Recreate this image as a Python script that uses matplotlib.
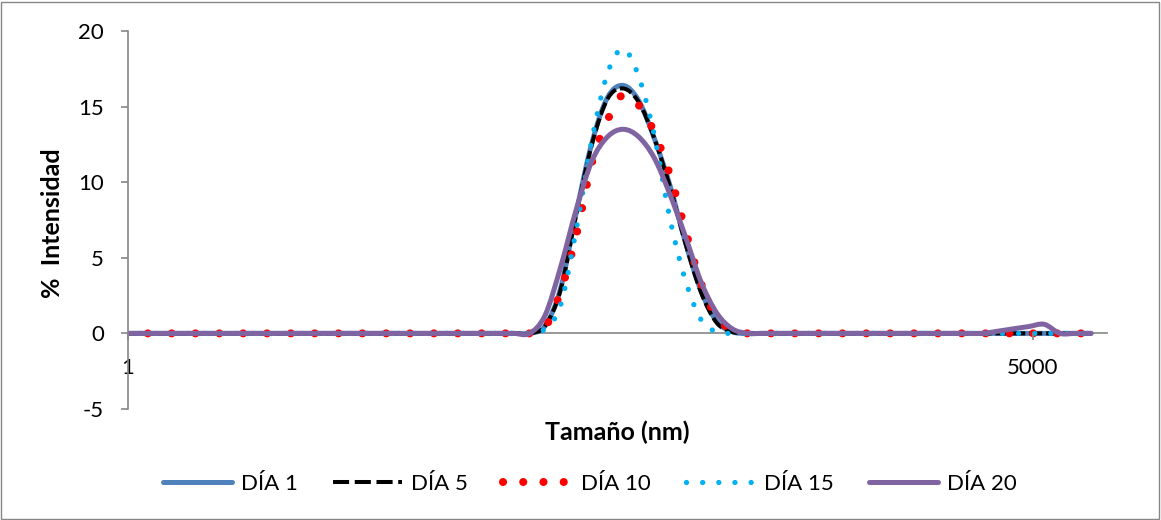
import matplotlib
matplotlib.use("Agg")
import numpy as np
import matplotlib.pyplot as plt
from matplotlib.ticker import NullLocator
from matplotlib.patches import Rectangle, PathPatch
from matplotlib.path import Path
from matplotlib.lines import Line2D

plt.rcParams['font.family'] = ['Lato', 'DejaVu Sans']
plt.rcParams['axes.unicode_minus'] = False

# tamaños de las clases (nm)
tamano = [0.9649, 1.117, 1.294, 1.499, 1.736, 2.01, 2.328, 2.696, 3.122, 3.615,
          4.187, 4.849, 5.615, 6.503, 7.531, 8.721, 10.1, 11.7, 13.54, 15.69,
          18.17, 21.04, 24.36, 28.21, 32.67, 37.84, 43.82, 50.75, 58.77, 68.06,
          78.82, 91.28, 105.7, 122.4, 141.8, 164.2, 190.1, 220.2, 255.0, 295.3,
          342.0, 396.1, 458.7, 531.2, 615.1, 712.4, 825.0, 955.4, 1106, 1281,
          1484, 1718, 1990, 2305, 2669, 3091, 3580, 4145, 4801, 5560,
          6439, 7456, 8635]

# % intensidad por día
dia1 = [0, 0, 0, 0, 0, 0, 0, 0, 0, 0,
        0, 0, 0, 0, 0, 0, 0, 0, 0, 0,
        0, 0, 0, 0, 0, 0, 0, 0.5, 3.0, 8.0,
        12.6, 15.6, 16.4, 15.4, 12.9, 9.8, 6.0, 2.8, 0.8, 0.1,
        0, 0, 0, 0, 0, 0, 0, 0, 0, 0,
        0, 0, 0, 0, 0, 0, 0, 0, 0, 0,
        0, 0, 0]
dia5 = [0, 0, 0, 0, 0, 0, 0, 0, 0, 0,
        0, 0, 0, 0, 0, 0, 0, 0, 0, 0,
        0, 0, 0, 0, 0, 0, 0, 0.5, 2.9, 7.9,
        12.5, 15.5, 16.2, 15.3, 12.9, 9.7, 5.95, 2.7, 0.7, 0.1,
        0, 0, 0, 0, 0, 0, 0, 0, 0, 0,
        0, 0, 0, 0, 0, 0, 0, 0, 0, 0,
        0, 0, 0]
dia10 = [0, 0, 0, 0, 0, 0, 0, 0, 0, 0,
         0, 0, 0, 0, 0, 0, 0, 0, 0, 0,
         0, 0, 0, 0, 0, 0, 0, 0.4, 2.8, 6.5,
         11.3, 14.1, 15.8, 15.1, 13.3, 10.5, 6.8, 3.3, 1.1, 0.2,
         0, 0, 0, 0, 0, 0, 0, 0, 0, 0,
         0, 0, 0, 0, 0, 0, 0, 0, 0, 0,
         0, 0, 0]
dia15 = [0, 0, 0, 0, 0, 0, 0, 0, 0, 0,
         0, 0, 0, 0, 0, 0, 0, 0, 0, 0,
         0, 0, 0, 0, 0, 0, 0, 0.3, 1.9, 6.9,
         12.8, 17.2, 18.8, 17.0, 13.1, 7.6, 3.5, 0.9, 0.1, 0,
         0, 0, 0, 0, 0, 0, 0, 0, 0, 0,
         0, 0, 0, 0, 0, 0, 0, 0, 0, 0,
         0, 0, 0]
dia20 = [0, 0, 0, 0, 0, 0, 0, 0, 0, 0,
         0, 0, 0, 0, 0, 0, 0, 0, 0, 0,
         0, 0, 0, 0, 0, 0, 0, 1.2, 4.4, 8.2,
         11.4, 13.0, 13.5, 13.0, 11.6, 9.2, 6.4, 3.4, 1.35, 0.3,
         0, 0, 0, 0, 0, 0, 0, 0, 0, 0,
         0, 0, 0, 0, 0, 0, 0.14, 0.3, 0.45, 0.6,
         0, 0, 0]

etiquetas = ['DÍA 1', 'DÍA 5', 'DÍA 10', 'DÍA 15', 'DÍA 20']


def suave(x, y):
    # linea suavizada (Catmull-Rom como bezier) en escala log de x
    lx = np.log10(np.asarray(x, float))
    y = np.asarray(y, float)
    n = len(lx)
    verts = [(lx[0], y[0])]
    codes = [Path.MOVETO]
    for i in range(n - 1):
        i0 = max(i - 1, 0)
        i3 = min(i + 2, n - 1)
        c1 = (lx[i] + (lx[i + 1] - lx[i0]) / 6, y[i] + (y[i + 1] - y[i0]) / 6)
        c2 = (lx[i + 1] - (lx[i3] - lx[i]) / 6, y[i + 1] - (y[i3] - y[i]) / 6)
        verts += [c1, c2, (lx[i + 1], y[i + 1])]
        codes += [Path.CURVE4] * 3
    v = np.array(verts)
    v[:, 0] = 10 ** v[:, 0]
    return Path(v, codes)


# color, grosor, estilo en la curva, estilo en la leyenda, extremo
estilos = [
    ('#4F81BD', 3.6, 'solid', 'solid', 'round'),
    ('black', 2.9, (0, (3.2, 1.0)), (0, (4.0, 1.4)), 'butt'),
    ('#FF0000', 5.8, (0, (0.01, 2.95)), (0, (0.01, 2.5)), 'round'),
    ('#00B0F0', 3.8, (0, (0.01, 3.05)), (0, (0.01, 3.05)), 'round'),
    ('#8064A2', 3.6, 'solid', 'solid', 'round'),
]
series = [dia1, dia5, dia10, dia15, dia20]

gris = '#868686'
fig = plt.figure(figsize=(11.61, 5.20), dpi=100)
ax = fig.add_axes([0.110, 0.2135, 0.8432, 0.7269])

handles = []
for serie, (col, lw, ls, ls_ley, cap) in zip(series, estilos):
    ax.add_patch(PathPatch(suave(tamano, serie), fill=False, ec=col, lw=lw,
                           linestyle=ls, capstyle=cap, joinstyle='round'))
    handles.append(Line2D([], [], color=col, lw=lw, linestyle=ls_ley,
                          dash_capstyle=cap, solid_capstyle='round'))

ax.set_xscale('log')
ax.set_xlim(1, 10000)
ax.set_ylim(-5, 20)
ax.set_xticks([1, 5000])
ax.set_xticklabels(['1', '5000'])
ax.xaxis.set_minor_locator(NullLocator())
ax.set_yticks([-5, 0, 5, 10, 15, 20])

for s in ['top', 'right']:
    ax.spines[s].set_visible(False)
ax.spines['bottom'].set_position(('data', 0))
ax.spines['bottom'].set_color(gris)
ax.spines['left'].set_color(gris)
ax.spines['bottom'].set_linewidth(1.2)
ax.spines['left'].set_linewidth(1.2)
ax.spines['bottom'].set_zorder(0)

ax.tick_params(axis='y', direction='out', length=5, width=1.2, color=gris, pad=12, labelsize=16)
ax.tick_params(axis='x', direction='out', length=5, width=1.2, color=gris, pad=13, labelsize=16)

ax.set_xlabel('Tamaño (nm)', fontsize=18, fontweight='bold', va='center')
ax.xaxis.set_label_coords(0.5, -0.0608)
ax.set_ylabel('%  Intensidad', fontsize=18, fontweight='bold', va='center')
ax.yaxis.set_label_coords(-0.0773, 0.492)

ax.legend(handles, etiquetas, loc='center', bbox_to_anchor=(0.508, 0.069),
          bbox_transform=fig.transFigure, ncol=5, frameon=False, fontsize=16,
          handlelength=3.1, handletextpad=0.4, columnspacing=1.6)

fig.patches.append(Rectangle((0.001, 0.002), 0.997, 0.995, transform=fig.transFigure,
                             fill=False, ec=gris, lw=1))

fig.savefig('out.png', dpi=100)
